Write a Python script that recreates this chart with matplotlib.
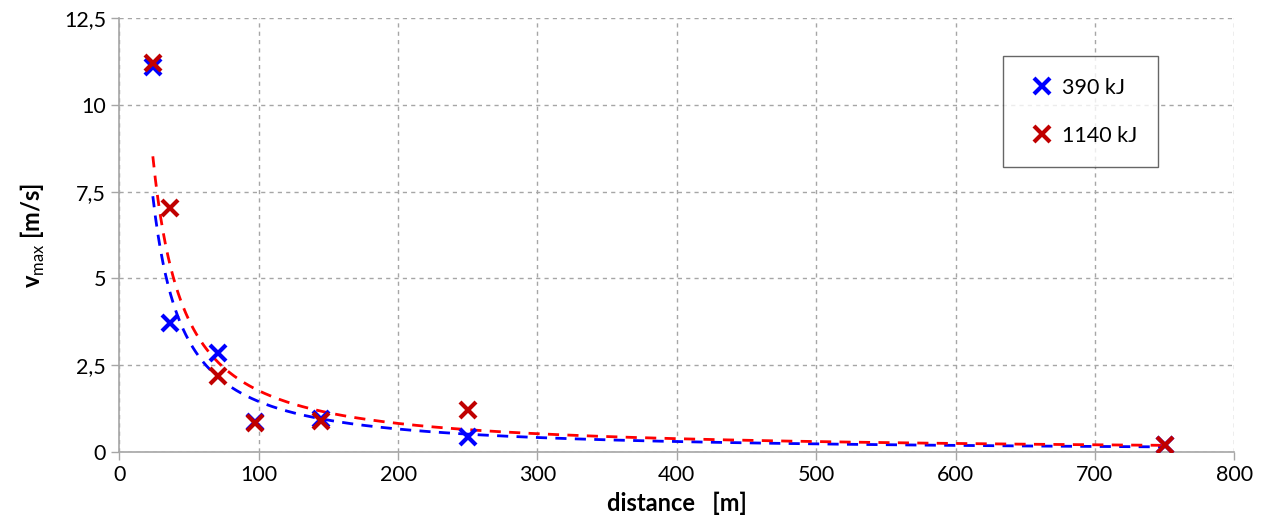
import numpy as np
import matplotlib.pyplot as plt
from matplotlib.ticker import FuncFormatter, MultipleLocator

plt.rcParams['font.family'] = ['Lato', 'DejaVu Sans']
plt.rcParams['mathtext.fontset'] = 'custom'
plt.rcParams['mathtext.rm'] = 'Lato'

# distances [m] and peak velocities [m/s]
dist = [24, 36, 71, 97, 145, 250, 750]
v_390 = [11.1, 3.72, 2.84, 0.85, 0.95, 0.42, 0.2]
v_1140 = [11.2, 7.04, 2.2, 0.83, 0.9, 1.22, 0.2]
labels = ['390 kJ', '1140 kJ']


def power_trend(x, y):
    # Excel-style power trendline: least squares in log-log space
    b, ln_a = np.polyfit(np.log(x), np.log(y), 1)
    xs = np.linspace(min(x), max(x), 400)
    return xs, np.exp(ln_a) * xs ** b


fig = plt.figure(figsize=(12.62, 5.29), dpi=100)
ax = fig.add_axes([0.0946, 0.1456, 0.8834, 0.820])

xs, ys = power_trend(dist, v_390)
ax.plot(xs, ys, color='#0000FF', lw=2, dashes=(4, 3), zorder=2)
xs, ys = power_trend(dist, v_1140)
ax.plot(xs, ys, color='#FF0000', lw=2, dashes=(4, 3), zorder=2)

ax.plot(dist, v_390, ls='none', marker='x', ms=11, mew=3,
        color='#0000FF', label=labels[0], zorder=3)
ax.plot(dist, v_1140, ls='none', marker='x', ms=11, mew=3,
        color='#C00000', label=labels[1], zorder=4)

ax.set_xlim(0, 800)
ax.set_ylim(0, 12.5)
ax.xaxis.set_major_locator(MultipleLocator(100))
ax.yaxis.set_major_locator(MultipleLocator(2.5))
ax.yaxis.set_major_formatter(FuncFormatter(lambda v, p: f'{v:g}'.replace('.', ',')))

ax.grid(True, color='#A6A6A6', ls=(0, (3, 3)), lw=1)
ax.set_axisbelow(True)
for s in ['top', 'right']:
    ax.spines[s].set_visible(False)
for s in ['left', 'bottom']:
    ax.spines[s].set_color('#A6A6A6')
    ax.spines[s].set_linewidth(1.2)
ax.tick_params(colors='#A6A6A6', labelcolor='black', labelsize=15.5,
               length=6, width=1)

ax.set_xlabel('distance   [m]', fontsize=17, fontweight='bold', labelpad=5)
ax.set_ylabel(r'v$_{\mathrm{max}}$ [m/s]', fontsize=17, fontweight='bold',
              labelpad=12)

leg = ax.legend(loc='upper left', bbox_to_anchor=(0.793, 0.912),
                fontsize=15.5, frameon=True, fancybox=False, labelspacing=1.3,
                borderpad=1.0, handletextpad=0.1, handlelength=1.6,
                borderaxespad=0)
leg.get_frame().set_edgecolor('#404040')
leg.get_frame().set_linewidth(1)

fig.savefig('out.png', dpi=100)
